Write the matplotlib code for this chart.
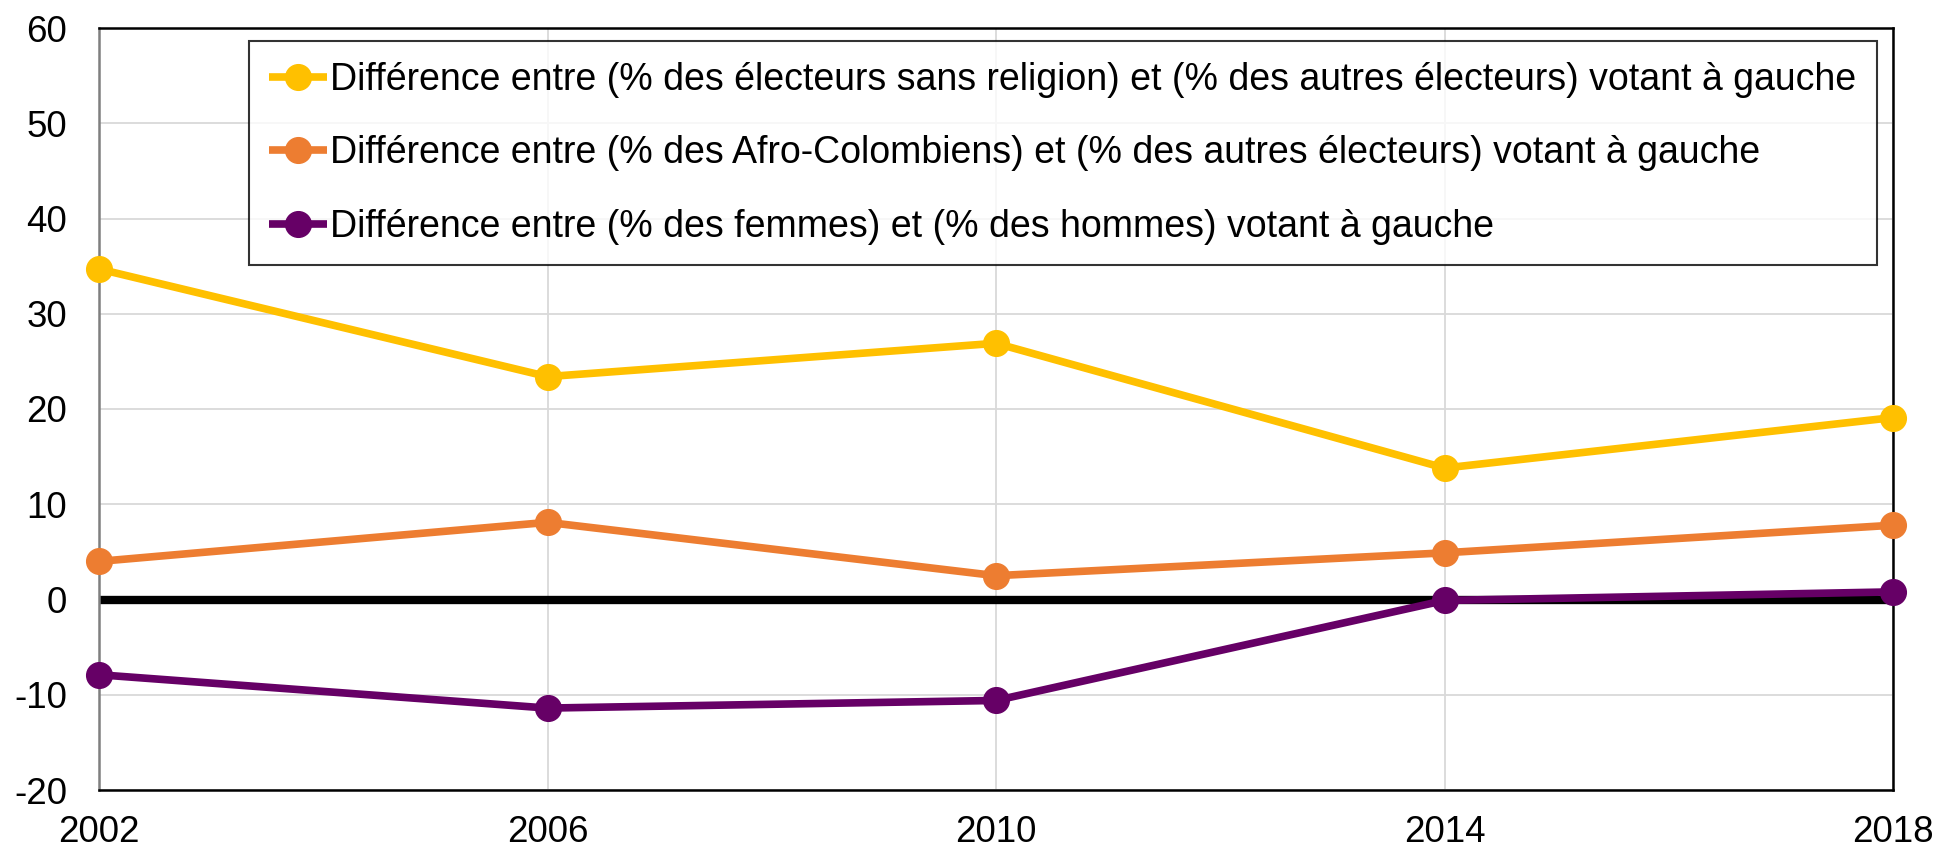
import matplotlib
matplotlib.use("Agg")
import matplotlib.pyplot as plt

years = [2002, 2006, 2010, 2014, 2018]
religion = [34.7, 23.4, 26.9, 13.8, 19.1]
afro = [4.0, 8.1, 2.5, 4.9, 7.8]
femmes = [-7.9, -11.4, -10.6, -0.1, 0.8]
labels = [
    "Différence entre (% des électeurs sans religion) et (% des autres électeurs) votant à gauche",
    "Différence entre (% des Afro-Colombiens) et (% des autres électeurs) votant à gauche",
    "Différence entre (% des femmes) et (% des hommes) votant à gauche",
]
colors = ["#FFC000", "#ED7D31", "#660066"]
yticks = [-20, -10, 0, 10, 20, 30, 40, 50, 60]

plt.rcParams['font.family'] = ['Liberation Sans', 'DejaVu Sans']
plt.rcParams['axes.unicode_minus'] = False

fig = plt.figure(figsize=(19.4, 8.51), dpi=100)
ax = fig.add_axes([99/1940, 1-790/851, (1893-99)/1940, (790-28)/851])

ax.set_xlim(years[0], years[-1])
ax.set_ylim(yticks[0], yticks[-1])
ax.set_xticks(years)
ax.set_yticks(yticks)
ax.grid(True, color="#d9d9d9", lw=1.3, zorder=0)
ax.set_axisbelow(True)
ax.axhline(0, color="black", lw=6, zorder=2)

for vals, lab, c in zip([religion, afro, femmes], labels, colors):
    ax.plot(years, vals, color=c, lw=5.5, marker="o", ms=18.5, label=lab,
            zorder=3, clip_on=False, solid_capstyle="butt")

ax.tick_params(axis="both", length=0, labelsize=26.5, colors="black")
ax.tick_params(axis="y", pad=23)
ax.tick_params(axis="x", pad=18)
for s in ["top", "bottom", "right"]:
    ax.spines[s].set_color("black")
    ax.spines[s].set_linewidth(1.8)
ax.spines["left"].set_color("#7f7f7f")
ax.spines["left"].set_linewidth(1.8)

leg = ax.legend(loc="upper right", bbox_to_anchor=((1877-99)/(1893-99), 1-(41-28)/(790-28)),
                fontsize=27, frameon=True, fancybox=False, edgecolor="black",
                handlelength=1.55, handletextpad=0.08, labelspacing=1.0,
                borderpad=0.55, borderaxespad=0)
leg.get_frame().set_linewidth(1.5)

fig.savefig("out.png", dpi=100, facecolor="white")
